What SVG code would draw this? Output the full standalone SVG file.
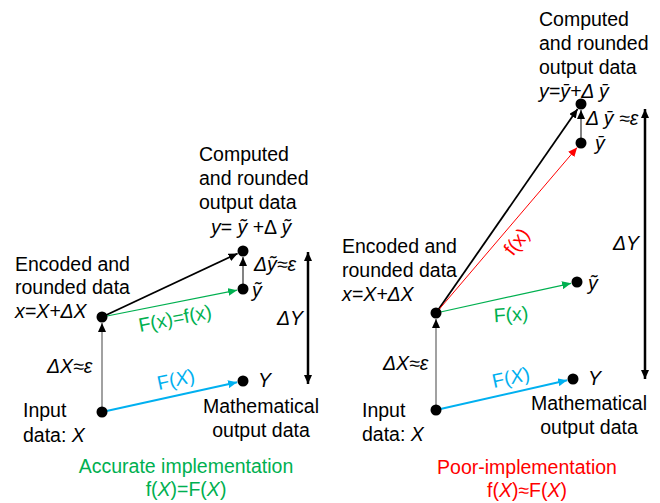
<svg xmlns="http://www.w3.org/2000/svg" width="660" height="503" viewBox="0 0 660 503">
<style>
text{font-family:"Liberation Sans",Arial,sans-serif;font-size:19.5px;fill:#000}
.i{font-style:italic}
.mid{text-anchor:middle}
.node{fill:#000}
.k{stroke:#000;stroke-width:1.8;fill:none}
.g{stroke:#00B050;stroke-width:1.2;fill:none}
.b{stroke:#00B0F0;stroke-width:2;fill:none}
.r{stroke:#FF0000;stroke-width:1;fill:none}
.gr{stroke:#6F6F6F;stroke-width:1.3;fill:none}
.dy{stroke:#000;stroke-width:2.5;fill:none}
</style>
<defs>
<marker id="ak" markerUnits="userSpaceOnUse" markerWidth="10" markerHeight="8" refX="9" refY="4" orient="auto"><path d="M0,0 L9,4 L0,8 z" fill="#000"/></marker>
<marker id="ag" markerUnits="userSpaceOnUse" markerWidth="10" markerHeight="8" refX="9" refY="4" orient="auto"><path d="M0,0 L9,4 L0,8 z" fill="#00B050"/></marker>
<marker id="ab" markerUnits="userSpaceOnUse" markerWidth="10" markerHeight="8" refX="9" refY="4" orient="auto"><path d="M0,0 L9,4 L0,8 z" fill="#00B0F0"/></marker>
<marker id="ar" markerUnits="userSpaceOnUse" markerWidth="10" markerHeight="8" refX="9" refY="4" orient="auto"><path d="M0,0 L9,4 L0,8 z" fill="#FF0000"/></marker>
<marker id="am" markerUnits="userSpaceOnUse" markerWidth="10" markerHeight="8" refX="9" refY="4" orient="auto-start-reverse"><path d="M0,0 L9,4 L0,8 z" fill="#000"/></marker>
</defs>

<g id="connectors">
<!-- left panel -->
<line class="gr" x1="102" y1="412" x2="102" y2="323" marker-end="url(#ak)"/>
<line class="k" x1="102" y1="317" x2="237.6" y2="253.5" marker-end="url(#ak)"/>
<line class="g" x1="102" y1="317" x2="237.1" y2="290.2" marker-end="url(#ag)"/>
<line class="b" x1="102" y1="412" x2="237.1" y2="382.3" marker-end="url(#ab)"/>
<line class="gr" x1="243" y1="289" x2="243" y2="257" style="stroke:#404040" marker-end="url(#ak)"/>
<line class="dy" x1="308" y1="252" x2="308" y2="384" marker-start="url(#am)" marker-end="url(#am)"/>
<text class="i" x="47" y="373">ΔX≈ε</text>
<text x="175" y="325" class="mid" style="fill:#00B050" transform="rotate(-11 175 318)">F(x)=f(x)</text>
<text x="176" y="386" class="mid" style="fill:#00B0F0" transform="rotate(-12.4 176 380)">F(<tspan class="i">X</tspan>)</text>
<text class="i" x="254" y="271">Δỹ≈ε</text>
<text class="i" x="277" y="325">ΔY</text>
<!-- right panel -->
<line class="gr" x1="436" y1="410" x2="436" y2="319" marker-end="url(#ak)"/>
<line class="k" x1="436" y1="313" x2="577.6" y2="108.9" marker-end="url(#ak)"/>
<line class="r" x1="436" y1="313" x2="577.1" y2="147.6" marker-end="url(#ar)"/>
<line class="g" x1="436" y1="313" x2="571.1" y2="283.3" marker-end="url(#ag)"/>
<line class="b" x1="436" y1="410" x2="567.2" y2="380.3" marker-end="url(#ab)"/>
<line class="gr" x1="581" y1="143" x2="581" y2="110" style="stroke:#404040" marker-end="url(#ak)"/>
<line class="dy" x1="645" y1="109" x2="645" y2="379" marker-start="url(#am)" marker-end="url(#am)"/>
<text class="i" x="383" y="370">ΔX≈ε</text>
<text x="511" y="321" class="mid" style="fill:#00B050" transform="rotate(-4 511 315)">F(x)</text>
<text x="511" y="384" class="mid" style="fill:#00B0F0" transform="rotate(-12.4 511 378)">F(<tspan class="i">X</tspan>)</text>
<text x="517" y="248" class="mid" style="fill:#FF0000" transform="rotate(-52 517 242)">f(x)</text>
<text class="i" x="586" y="125">Δ ȳ ≈ε</text>
<text class="i" x="613" y="250">ΔY</text>
</g>

<g id="input-left">
<circle class="node" cx="102" cy="412" r="5.5"/>
<text x="23" y="417">Input</text>
<text x="23" y="442">data: <tspan class="i">X</tspan></text>
</g>
<g id="encoded-left">
<circle class="node" cx="102" cy="317" r="5.5"/>
<text x="15" y="271">Encoded and</text>
<text x="15" y="294">rounded data</text>
<text x="15" y="318" class="i">x=X+ΔX</text>
</g>
<g id="Y-left">
<circle class="node" cx="243" cy="381" r="5.5"/>
<text x="258" y="387" class="i">Y</text>
<text x="261" y="413" class="mid">Mathematical</text>
<text x="261" y="437" class="mid">output data</text>
</g>
<g id="ytilde-left">
<circle class="node" cx="243" cy="289" r="5.5"/>
<text x="252" y="297" class="i">ỹ</text>
</g>
<g id="y-left">
<circle class="node" cx="243" cy="251" r="5.5"/>
<text x="199" y="161">Computed</text>
<text x="199" y="185">and rounded</text>
<text x="199" y="209">output data</text>
<text x="211" y="234"><tspan class="i">y</tspan>= <tspan class="i">ỹ</tspan> +Δ <tspan class="i">ỹ</tspan></text>
</g>
<g id="caption-left">
<text x="186" y="473" class="mid" style="fill:#00B050">Accurate implementation</text>
<text x="186" y="496" class="mid" style="fill:#00B050">f(<tspan class="i">X</tspan>)=F(<tspan class="i">X</tspan>)</text>
</g>

<g id="input-right">
<circle class="node" cx="436" cy="410" r="5.5"/>
<text x="362" y="417">Input</text>
<text x="362" y="441">data: <tspan class="i">X</tspan></text>
</g>
<g id="encoded-right">
<circle class="node" cx="436" cy="313" r="5.5"/>
<text x="342" y="253">Encoded and</text>
<text x="342" y="277">rounded data</text>
<text x="342" y="301" class="i">x=X+ΔX</text>
</g>
<g id="Y-right">
<circle class="node" cx="573" cy="379" r="5.5"/>
<text x="588" y="385" class="i">Y</text>
<text x="589" y="410" class="mid">Mathematical</text>
<text x="589" y="434" class="mid">output data</text>
</g>
<g id="ytilde-right">
<circle class="node" cx="577" cy="282" r="5.5"/>
<text x="588" y="290" class="i">ỹ</text>
</g>
<g id="ybar-right">
<circle class="node" cx="581" cy="143" r="5.5"/>
<text x="595" y="150" class="i">ȳ</text>
</g>
<g id="y-right">
<circle class="node" cx="581" cy="104" r="5.5"/>
<text x="539" y="26">Computed</text>
<text x="539" y="50">and rounded</text>
<text x="539" y="74">output data</text>
<text x="539" y="98" class="i">y=ȳ+Δ ȳ</text>
</g>
<g id="caption-right">
<text x="527" y="474" class="mid" style="fill:#FF0000">Poor-implementation</text>
<text x="527" y="497" class="mid" style="fill:#FF0000">f(<tspan class="i">X</tspan>)≈F(<tspan class="i">X</tspan>)</text>
</g>
</svg>
